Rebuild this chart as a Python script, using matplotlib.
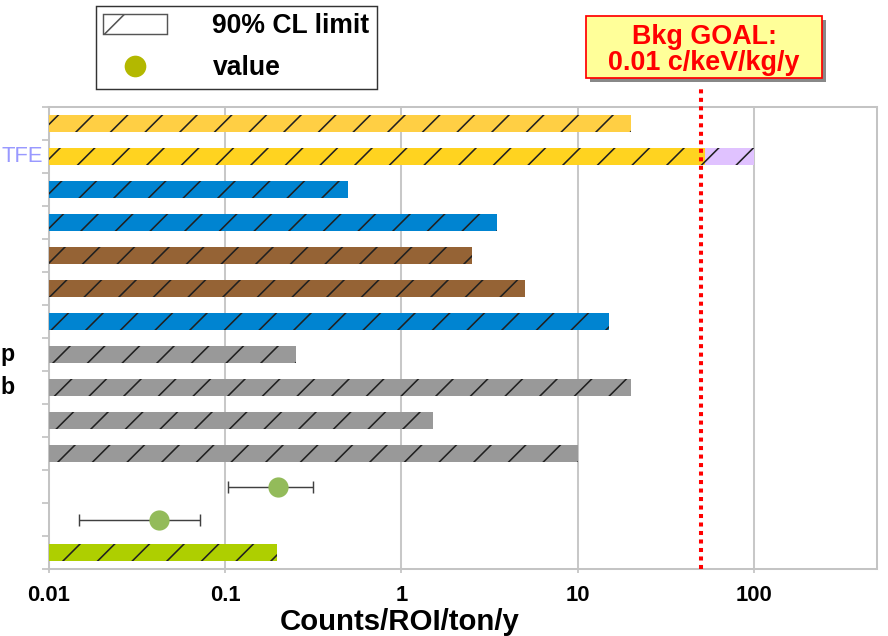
import numpy as np
import matplotlib
matplotlib.use('Agg')
import matplotlib.pyplot as plt
from matplotlib.patches import Patch, Rectangle
from matplotlib.lines import Line2D
from matplotlib.transforms import blended_transform_factory

# rows from top to bottom
row_labels = ['', 'TFE', '', '', '', '', '', 'p', 'b', '', '', '', '', '']
limit_rows = [0, 1, 2, 3, 4, 5, 6, 7, 8, 9, 10, 13]
limit_values = [20, 53, 0.5, 3.5, 2.5, 5, 15, 0.253, 20, 1.5, 10, 0.197]
extra_rows = [1]
extra_from = [53]
extra_to = [100]
value_rows = [11, 12]
values = [0.2, 0.042]
value_low = [0.104, 0.0148]
value_high = [0.316, 0.072]
goal_value = 50
xticks = [0.01, 0.1, 1, 10, 100]
xticklabels = ['0.01', '0.1', '1', '10', '100']

bar_colors = ['#ffcf44', '#ffd320', '#0084d1', '#0084d1', '#956335', '#956335',
              '#0084d1', '#999999', '#999999', '#999999', '#999999', '#aecf00']
extra_color = '#e0c2ff'
dot_color = '#93bb5a'

DPI = 208
plt.rcParams['hatch.linewidth'] = 0.55
plt.rcParams['font.family'] = ['Liberation Sans', 'DejaVu Sans']

fig = plt.figure(figsize=(888 / DPI, 636 / DPI), dpi=DPI)
ax = fig.add_axes([49 / 888, 1 - 569 / 636, (877 - 49) / 888, (569 - 107) / 636])
ax.set_xscale('log')
xmin = 0.01
ax.set_xlim(xmin, 499)
ax.set_ylim(len(row_labels) - 0.5, -0.5)

ax.barh(limit_rows, np.array(limit_values) - xmin, left=xmin, height=0.52,
        color=bar_colors, edgecolor='#202020', linewidth=0, hatch='//', zorder=3)
ax.barh(extra_rows, np.array(extra_to) - np.array(extra_from), left=extra_from,
        height=0.52, color=extra_color, edgecolor='#202020', linewidth=0, hatch='//', zorder=3)

err = [np.array(values) - np.array(value_low), np.array(value_high) - np.array(values)]
ax.errorbar(values, value_rows, xerr=err, fmt='none', ecolor='#404040',
            elinewidth=0.5, capsize=2.2, capthick=0.5, zorder=4)
ax.plot(values, value_rows, 'o', color=dot_color, markersize=7, markeredgewidth=0, zorder=5)

# goal line
ax.axvline(goal_value, ymin=0, ymax=(569 - 88) / 462, clip_on=False, color='#ff0000',
           lw=1.4, ls=(0, (1, 1.1)), dash_capstyle='butt', zorder=6)

# axes styling
for s in ax.spines.values():
    s.set_color('#c4c4c4')
    s.set_linewidth(0.7)
ax.grid(axis='x', which='major', color='#c8c8c8', lw=0.7, zorder=0)
ax.set_xticks(xticks)
ax.set_xticklabels(xticklabels, fontweight='bold', fontsize=7.6)
ax.xaxis.set_minor_locator(matplotlib.ticker.NullLocator())
ax.tick_params(axis='x', length=1.5, width=0.6, color='#c4c4c4', pad=4.0)
ax.set_yticks(np.arange(len(row_labels) + 1) - 0.5)
ax.set_yticklabels([])
ax.tick_params(axis='y', length=2.5, width=0.6, color='#c4c4c4')
ax.set_xlabel('Counts/ROI/ton/y', fontweight='bold', fontsize=10.2)
ax.xaxis.set_label_coords((400 - 49) / 828, -0.085)

trans = blended_transform_factory(fig.transFigure, ax.transData)
for i, lab in enumerate(row_labels):
    if lab == 'TFE':
        ax.text(1.5 / 888, i, lab, transform=trans, ha='left', va='center',
                color='#9999ff', fontsize=7.6)
    elif lab:
        ax.text(0.5 / 888, i, lab, transform=trans, ha='left', va='center',
                color='black', fontweight='bold', fontsize=8)

# legend
handles = [Patch(facecolor='white', edgecolor='#555555', hatch='/', linewidth=0.5),
           Line2D([], [], ls='none', marker='o', color='#b3b800', markersize=7.5,
                  markeredgewidth=0)]
leg = fig.legend(handles, ['90% CL limit', 'value'], loc='upper left',
                 bbox_to_anchor=(96 / 888, 1 - 6 / 636), prop={'weight': 'bold', 'size': 9.2},
                 fancybox=False, framealpha=1, edgecolor='#333333', borderpad=0.28,
                 handlelength=2.4, handleheight=0.75, handletextpad=1.7,
                 labelspacing=0.6, borderaxespad=0)
leg.get_frame().set_linewidth(0.5)

# goal box
fig.patches.append(Rectangle((590 / 888, 1 - 82 / 636), 236 / 888, 62 / 636,
                             transform=fig.transFigure, facecolor='#888888',
                             edgecolor='none', zorder=1))
fig.patches.append(Rectangle((586 / 888, 1 - 78 / 636), 236 / 888, 62 / 636,
                             transform=fig.transFigure, facecolor='#ffff99',
                             edgecolor='#ff0000', lw=0.6, zorder=2))
fig.text(704 / 888, 1 - 50 / 636, 'Bkg GOAL:\n0.01 c/keV/kg/y', ha='center', va='center',
         color='#ff0000', fontweight='bold', fontsize=9.3, linespacing=1.0, zorder=3)

fig.savefig('out.png', dpi=DPI)
